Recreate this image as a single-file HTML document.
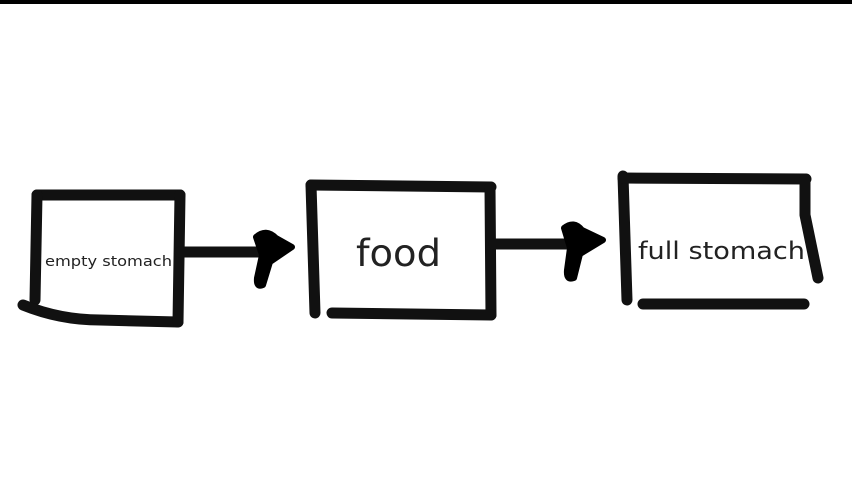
<!DOCTYPE html>
<html><head><style>
html,body{margin:0;padding:0;background:#fff;}
svg{display:block}
</style></head><body>
<svg width="852" height="478" viewBox="0 0 852 478" xmlns="http://www.w3.org/2000/svg">
<rect x="0" y="0" width="852" height="4" fill="#000"/>
<g fill="none" stroke="#111" stroke-width="11" stroke-linecap="round" stroke-linejoin="round">
<path d="M37,195 L180,195"/>
<path d="M37,195 L35,300"/>
<path d="M23,305 Q60,320 100,320 L178,322"/>
<path d="M180,195 L178,322"/>
<path d="M180,252 L262,252"/>
<path d="M311,185 L315,313"/>
<path d="M311,185 L491,187"/>
<path d="M490,187 L491,315"/>
<path d="M332,313 L491,315"/>
<path d="M494,244 L568,244"/>
<path d="M623,176 L627,300"/>
<path d="M623,178 L806,179"/>
<path d="M805,179 L805,215 L818,278"/>
<path d="M643,304 L804,304"/>
</g>
<g fill="#000" stroke="#000" stroke-width="6" stroke-linejoin="round">
<path d="M256,237 Q266,228 276,238 L292,247 L270,262 L263,285 Q256,288 257,278 L262,255 Z"/>
<path d="M564,228 Q574,220 582,230 L603,240 L580,254 L574,278 Q566,281 567,270 L570,248 Z"/>
</g>
<g font-family="DejaVu Sans, sans-serif" fill="#222">
<text x="45" y="266" font-size="14" textLength="127" lengthAdjust="spacingAndGlyphs">empty stomach</text>
<text x="356" y="266" font-size="37" textLength="85" lengthAdjust="spacingAndGlyphs">food</text>
<text x="638" y="259" font-size="24" textLength="167" lengthAdjust="spacingAndGlyphs">full stomach</text>
</g>
</svg>
</body></html>
